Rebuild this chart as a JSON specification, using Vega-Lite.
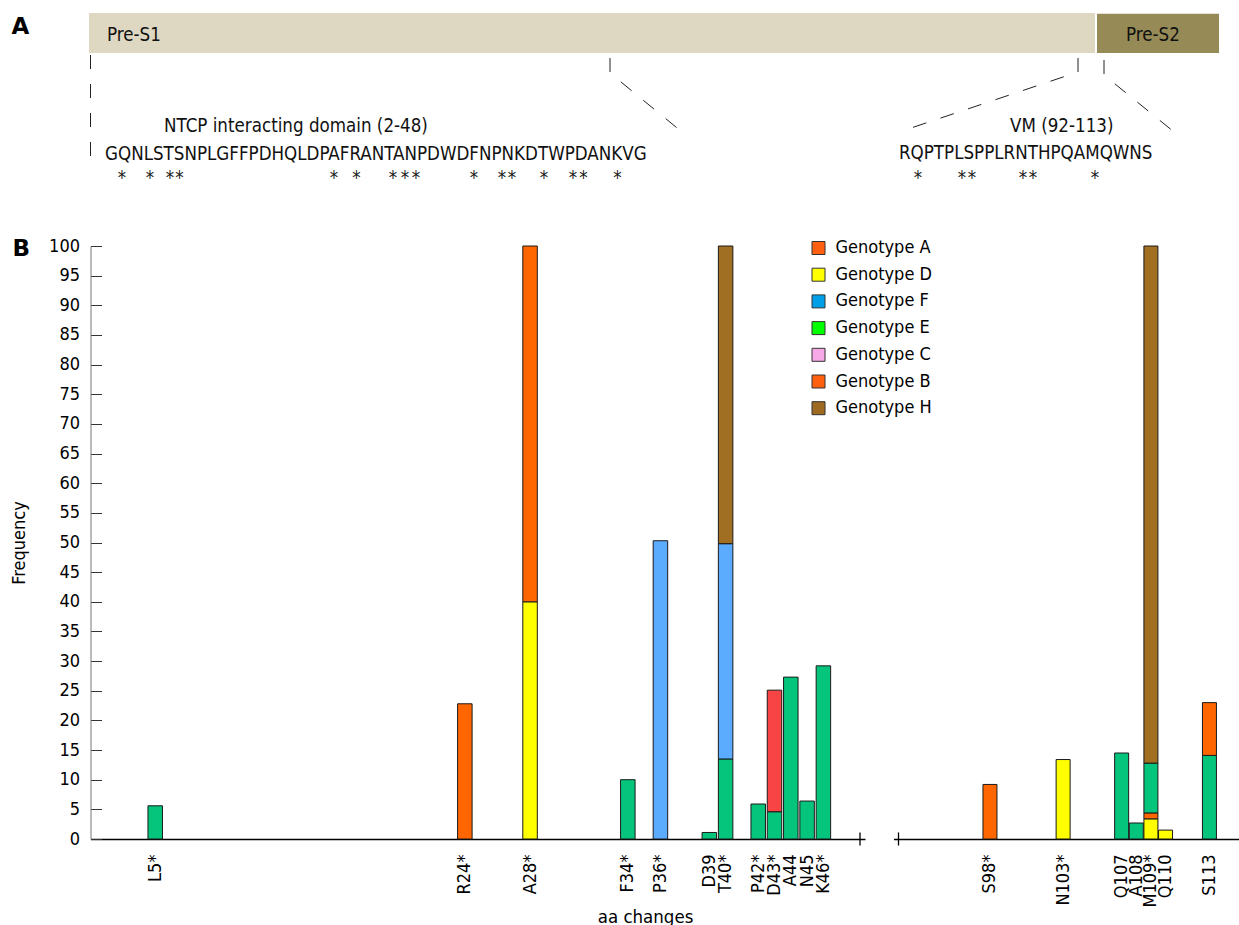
{
  "$schema": "https://vega.github.io/schema/vega-lite/v6.json",
  "background": "white",
  "padding": {"left": 10.5, "top": 13, "right": 0, "bottom": 0},
  "config": {
    "font": "DejaVu Sans Condensed, DejaVu Sans",
    "view": {"stroke": null},
    "axis": {"grid": false, "labelColor": "#000", "titleColor": "#000", "labelFontSize": 18, "titleFontSize": 18, "titleFontWeight": "normal"},
    "legend": {"labelColor": "#000"}
  },
  "datasets": {
    "blocks": [
      {"block": "Pre-S1", "x0": -1.5, "x1": 1004.5, "y0": 0, "y1": 40},
      {"block": "Pre-S2", "x0": 1006.5, "x1": 1128.5, "y0": 0.7, "y1": 40}
    ],
    "panelLabels": [
      {"text": "A", "x": -79, "y": 21},
      {"text": "B", "x": -78, "y": 243}
    ],
    "labelsA": [
      {"text": "Pre-S1", "x": 16.5, "y": 27.5},
      {"text": "Pre-S2", "x": 1035.5, "y": 27.5},
      {"text": "NTCP interacting domain (2-48)", "x": 73.5, "y": 118.7},
      {"text": "GQNLSTSNPLGFFPDHQLDPAFRANTANPDWDFNPNKDTWPDANKVG", "x": 14.5, "y": 146.5},
      {"text": "VM (92-113)", "x": 919.5, "y": 119.3},
      {"text": "RQPTPLSPPLRNTHPQAMQWNS", "x": 808.5, "y": 146}
    ],
    "stars": [
      {"x": 31.5}, {"x": 59.5}, {"x": 79.5}, {"x": 89}, {"x": 243.5}, {"x": 266},
      {"x": 302.5}, {"x": 314.5}, {"x": 325.5}, {"x": 383.5}, {"x": 411.5}, {"x": 421.5},
      {"x": 453.5}, {"x": 482.5}, {"x": 493}, {"x": 527},
      {"x": 827.5}, {"x": 871.5}, {"x": 881.5}, {"x": 932.5}, {"x": 942.5}, {"x": 1004.5}
    ],
    "dashes": [
      {"line": 1, "ord": 1, "x": 0, "y": 42}, {"line": 1, "ord": 2, "x": 0, "y": 147},
      {"line": 2, "ord": 1, "x": 519.5, "y": 45}, {"line": 2, "ord": 2, "x": 519.5, "y": 60}, {"line": 2, "ord": 3, "x": 591.5, "y": 119},
      {"line": 3, "ord": 1, "x": 987.5, "y": 45}, {"line": 3, "ord": 2, "x": 987.5, "y": 59}, {"line": 3, "ord": 3, "x": 820.5, "y": 115},
      {"line": 4, "ord": 1, "x": 1013.5, "y": 47}, {"line": 4, "ord": 2, "x": 1013.5, "y": 62}, {"line": 4, "ord": 3, "x": 1088.5, "y": 123}
    ],
    "bars": [
      {"aa": 5, "mutation": "L5*", "genotype": "Genotype E", "freq": 5.6, "seg": 1},
      {"aa": 24, "mutation": "R24*", "genotype": "Genotype A", "freq": 22.8, "seg": 1},
      {"aa": 28, "mutation": "A28*", "genotype": "Genotype D", "freq": 40.0, "seg": 1},
      {"aa": 28, "mutation": "A28*", "genotype": "Genotype A", "freq": 60.0, "seg": 2},
      {"aa": 34, "mutation": "F34*", "genotype": "Genotype E", "freq": 10.0, "seg": 1},
      {"aa": 36, "mutation": "P36*", "genotype": "Genotype F", "freq": 50.3, "seg": 1},
      {"aa": 39, "mutation": "D39", "genotype": "Genotype E", "freq": 1.1, "seg": 1},
      {"aa": 40, "mutation": "T40*", "genotype": "Genotype E", "freq": 13.5, "seg": 1},
      {"aa": 40, "mutation": "T40*", "genotype": "Genotype F", "freq": 36.3, "seg": 2},
      {"aa": 40, "mutation": "T40*", "genotype": "Genotype H", "freq": 50.2, "seg": 3},
      {"aa": 42, "mutation": "P42*", "genotype": "Genotype E", "freq": 5.9, "seg": 1},
      {"aa": 43, "mutation": "D43*", "genotype": "Genotype E", "freq": 4.6, "seg": 1},
      {"aa": 43, "mutation": "D43*", "genotype": "Genotype B", "freq": 20.5, "seg": 2},
      {"aa": 44, "mutation": "A44", "genotype": "Genotype E", "freq": 27.3, "seg": 1},
      {"aa": 45, "mutation": "N45", "genotype": "Genotype E", "freq": 6.4, "seg": 1},
      {"aa": 46, "mutation": "K46*", "genotype": "Genotype E", "freq": 29.2, "seg": 1},
      {"aa": 98, "mutation": "S98*", "genotype": "Genotype A", "freq": 9.2, "seg": 1},
      {"aa": 103, "mutation": "N103*", "genotype": "Genotype D", "freq": 13.4, "seg": 1},
      {"aa": 107, "mutation": "Q107", "genotype": "Genotype E", "freq": 14.5, "seg": 1},
      {"aa": 108, "mutation": "A108", "genotype": "Genotype E", "freq": 2.7, "seg": 1},
      {"aa": 109, "mutation": "M109*", "genotype": "Genotype D", "freq": 3.4, "seg": 1},
      {"aa": 109, "mutation": "M109*", "genotype": "Genotype A", "freq": 1.0, "seg": 2},
      {"aa": 109, "mutation": "M109*", "genotype": "Genotype E", "freq": 8.4, "seg": 3},
      {"aa": 109, "mutation": "M109*", "genotype": "Genotype H", "freq": 87.2, "seg": 4},
      {"aa": 110, "mutation": "Q110", "genotype": "Genotype D", "freq": 1.5, "seg": 1},
      {"aa": 113, "mutation": "S113", "genotype": "Genotype E", "freq": 14.1, "seg": 1},
      {"aa": 113, "mutation": "S113", "genotype": "Genotype A", "freq": 8.9, "seg": 2}
    ],
    "breaks": [
      {"panel": "left", "aa": 48.246},
      {"panel": "right", "aa": 91.75}
    ]
  },
  "bounds": "flush",
  "spacing": 43,
  "resolve": {"scale": {"color": "independent"}},
  "vconcat": [
    {
      "width": 1149,
      "height": 190,
      "layer": [
        {
          "data": {"name": "blocks"},
          "transform": [{"filter": "datum.block === 'Pre-S1'"}],
          "mark": {"type": "rect", "color": "#DED8C2"},
          "encoding": {
            "x": {"field": "x0", "type": "quantitative", "scale": {"domain": [0, 1149], "nice": false, "zero": false}, "axis": null},
            "x2": {"field": "x1"},
            "y": {"field": "y0", "type": "quantitative", "scale": {"domain": [0, 190], "nice": false, "zero": false, "reverse": true}, "axis": null},
            "y2": {"field": "y1"}
          }
        },
        {
          "data": {"name": "blocks"},
          "transform": [{"filter": "datum.block === 'Pre-S2'"}],
          "mark": {"type": "rect", "color": "#968B56"},
          "encoding": {
            "x": {"field": "x0", "type": "quantitative", "scale": {"domain": [0, 1149], "nice": false, "zero": false}, "axis": null},
            "x2": {"field": "x1"},
            "y": {"field": "y0", "type": "quantitative", "scale": {"domain": [0, 190], "nice": false, "zero": false, "reverse": true}, "axis": null},
            "y2": {"field": "y1"}
          }
        },
        {
          "data": {"name": "dashes"},
          "mark": {"type": "line", "strokeDash": [14, 15], "strokeWidth": 1, "color": "#222"},
          "encoding": {
            "x": {"field": "x", "type": "quantitative", "scale": {"domain": [0, 1149], "nice": false, "zero": false}, "axis": null},
            "y": {"field": "y", "type": "quantitative", "scale": {"domain": [0, 190], "nice": false, "zero": false, "reverse": true}, "axis": null},
            "detail": {"field": "line", "type": "nominal"},
            "order": {"field": "ord", "type": "quantitative"}
          }
        },
        {
          "data": {"name": "panelLabels"},
          "mark": {"type": "text", "align": "left", "baseline": "alphabetic", "fontSize": 23, "fontWeight": "bold", "font": "DejaVu Sans", "color": "#000"},
          "encoding": {
            "x": {"field": "x", "type": "quantitative", "scale": {"domain": [0, 1149], "nice": false, "zero": false}, "axis": null},
            "y": {"field": "y", "type": "quantitative", "scale": {"domain": [0, 190], "nice": false, "zero": false, "reverse": true}, "axis": null},
            "text": {"field": "text"}
          }
        },
        {
          "data": {"name": "labelsA"},
          "mark": {"type": "text", "align": "left", "baseline": "alphabetic", "fontSize": 18.6, "color": "#111"},
          "encoding": {
            "x": {"field": "x", "type": "quantitative", "scale": {"domain": [0, 1149], "nice": false, "zero": false}, "axis": null},
            "y": {"field": "y", "type": "quantitative", "scale": {"domain": [0, 190], "nice": false, "zero": false, "reverse": true}, "axis": null},
            "text": {"field": "text"}
          }
        },
        {
          "data": {"name": "stars"},
          "mark": {"type": "text", "align": "center", "baseline": "alphabetic", "fontSize": 18.6, "color": "#111", "text": "*"},
          "encoding": {
            "x": {"field": "x", "type": "quantitative", "scale": {"domain": [0, 1149], "nice": false, "zero": false}, "axis": null},
            "y": {"datum": 170.8, "type": "quantitative", "scale": {"domain": [0, 190], "nice": false, "zero": false, "reverse": true}, "axis": null}
          }
        }
      ]
    },
    {
      "bounds": "flush",
      "spacing": 28,
      "resolve": {"scale": {"color": "independent"}},
      "title": {"text": "aa changes", "orient": "bottom", "anchor": "middle", "fontSize": 18.5, "fontWeight": "normal", "color": "#000", "dx": 20, "offset": 1},
      "hconcat": [
        {
          "width": 774.5,
          "height": 593,
          "resolve": {"scale": {"color": "independent"}},
          "layer": [
            {
              "data": {"name": "bars"},
              "transform": [{"filter": "datum.aa < 60"}],
              "mark": {"type": "bar", "width": 14.5, "stroke": "#1a1a1a", "strokeWidth": 1},
              "encoding": {
                "x": {"field": "aa", "type": "quantitative", "scale": {"domain": [1.336, 48.246], "nice": false, "zero": false},
                  "axis": {"title": null, "values": [5, 24, 28, 34, 36, 39, 40, 42, 43, 44, 45, 46],
                    "labelExpr": "{'5':'L5*','24':'R24*','28':'A28*','34':'F34*','36':'P36*','39':'D39','40':'T40*','42':'P42*','43':'D43*','44':'A44','45':'N45','46':'K46*'}[datum.value]",
                    "labelAngle": -90, "labelOverlap": false, "ticks": false, "tickSize": 0, "labelPadding": 15, "labelFlush": false, "labelBound": false, "domainColor": "#000", "domainWidth": 1.3}},
                "y": {"field": "freq", "type": "quantitative", "stack": "zero", "scale": {"domain": [0, 100], "nice": false, "zero": false},
                  "axis": {"title": "Frequency", "values": [0, 5, 10, 15, 20, 25, 30, 35, 40, 45, 50, 55, 60, 65, 70, 75, 80, 85, 90, 95, 100],
                    "ticks": true, "tickWidth": 1, "tickSize": -11, "labelPadding": 22, "labelOverlap": false, "labelFlush": false, "titlePadding": 20, "domainColor": "#777", "tickColor": "#333"}},
                "color": {"field": "genotype", "type": "nominal",
                  "scale": {"domain": ["Genotype A", "Genotype D", "Genotype F", "Genotype E", "Genotype C", "Genotype B", "Genotype H"],
                    "range": ["#FF6600", "#FFFF00", "#5BABFF", "#05C47C", "#F5A6E3", "#F84444", "#A16F22"]}, "legend": null},
                "order": {"field": "seg", "type": "quantitative"}
              }
            },
            {
              "data": {"name": "bars"},
              "transform": [{"filter": "datum.freq < 0"}],
              "mark": {"type": "square", "filled": true, "stroke": "#333", "strokeWidth": 1, "opacity": 1},
              "encoding": {
                "x": {"field": "aa", "type": "quantitative", "scale": {"domain": [1.336, 48.246], "nice": false, "zero": false},
                  "axis": {"title": null, "values": [5, 24, 28, 34, 36, 39, 40, 42, 43, 44, 45, 46],
                    "labelExpr": "{'5':'L5*','24':'R24*','28':'A28*','34':'F34*','36':'P36*','39':'D39','40':'T40*','42':'P42*','43':'D43*','44':'A44','45':'N45','46':'K46*'}[datum.value]",
                    "labelAngle": -90, "labelOverlap": false, "ticks": false, "tickSize": 0, "labelPadding": 15, "labelFlush": false, "labelBound": false, "domainColor": "#000", "domainWidth": 1.3}},
                "y": {"field": "freq", "type": "quantitative", "scale": {"domain": [0, 100], "nice": false, "zero": false},
                  "axis": {"title": "Frequency", "values": [0, 5, 10, 15, 20, 25, 30, 35, 40, 45, 50, 55, 60, 65, 70, 75, 80, 85, 90, 95, 100],
                    "ticks": true, "tickWidth": 1, "tickSize": -11, "labelPadding": 22, "labelOverlap": false, "labelFlush": false, "titlePadding": 20, "domainColor": "#777", "tickColor": "#333"}},
                "color": {"field": "genotype", "type": "nominal",
                  "scale": {"domain": ["Genotype A", "Genotype D", "Genotype F", "Genotype E", "Genotype C", "Genotype B", "Genotype H"],
                    "range": ["#FF6010", "#FFFF00", "#009FE8", "#00FF00", "#F7A8E6", "#FF6010", "#9E6A22"]},
                  "legend": {"title": null, "orient": "none", "legendX": 719, "legendY": -7, "symbolType": "square", "symbolSize": 169,
                    "labelFontSize": 18, "labelColor": "#000", "labelOffset": 8, "rowPadding": 8.7, "padding": 0,
                    "symbolStrokeColor": "#333", "symbolStrokeWidth": 1, "symbolOpacity": 1}}
              }
            },
            {
              "data": {"name": "breaks"},
              "transform": [{"filter": "datum.panel === 'left'"}],
              "mark": {"type": "rule", "color": "#000", "strokeWidth": 1.3},
              "encoding": {
                "x": {"field": "aa", "type": "quantitative", "scale": {"domain": [1.336, 48.246], "nice": false, "zero": false},
                  "axis": {"title": null, "values": [5, 24, 28, 34, 36, 39, 40, 42, 43, 44, 45, 46],
                    "labelExpr": "{'5':'L5*','24':'R24*','28':'A28*','34':'F34*','36':'P36*','39':'D39','40':'T40*','42':'P42*','43':'D43*','44':'A44','45':'N45','46':'K46*'}[datum.value]",
                    "labelAngle": -90, "labelOverlap": false, "ticks": false, "tickSize": 0, "labelPadding": 15, "labelFlush": false, "labelBound": false, "domainColor": "#000", "domainWidth": 1.3}},
                "y": {"datum": -1.1, "type": "quantitative", "scale": {"domain": [0, 100], "nice": false, "zero": false},
                  "axis": {"title": "Frequency", "values": [0, 5, 10, 15, 20, 25, 30, 35, 40, 45, 50, 55, 60, 65, 70, 75, 80, 85, 90, 95, 100],
                    "ticks": true, "tickWidth": 1, "tickSize": -11, "labelPadding": 22, "labelOverlap": false, "labelFlush": false, "titlePadding": 20, "domainColor": "#777", "tickColor": "#333"}},
                "y2": {"datum": 1.1}
              }
            }
          ]
        },
        {
          "width": 347,
          "height": 593,
          "layer": [
            {
              "data": {"name": "bars"},
              "transform": [{"filter": "datum.aa > 60"}],
              "mark": {"type": "bar", "width": 14, "stroke": "#1a1a1a", "strokeWidth": 1},
              "encoding": {
                "x": {"field": "aa", "type": "quantitative", "scale": {"domain": [91.75, 114.78], "nice": false, "zero": false},
                  "axis": {"title": null, "values": [98, 103, 107, 108, 109, 110, 113],
                    "labelExpr": "{'98':'S98*','103':'N103*','107':'Q107','108':'A108','109':'M109*','110':'Q110','113':'S113'}[datum.value]",
                    "labelAngle": -90, "labelOverlap": false, "ticks": false, "tickSize": 0, "labelPadding": 15, "labelFlush": false, "labelBound": false, "domainColor": "#000", "domainWidth": 1.3}},
                "y": {"field": "freq", "type": "quantitative", "stack": "zero", "scale": {"domain": [0, 100], "nice": false, "zero": false}, "axis": null},
                "color": {"field": "genotype", "type": "nominal",
                  "scale": {"domain": ["Genotype A", "Genotype D", "Genotype F", "Genotype E", "Genotype C", "Genotype B", "Genotype H"],
                    "range": ["#FF6600", "#FFFF00", "#5BABFF", "#05C47C", "#F5A6E3", "#F84444", "#A16F22"]}, "legend": null},
                "order": {"field": "seg", "type": "quantitative"}
              }
            },
            {
              "data": {"name": "breaks"},
              "transform": [{"filter": "datum.panel === 'right'"}],
              "mark": {"type": "rule", "color": "#000", "strokeWidth": 1.3},
              "encoding": {
                "x": {"field": "aa", "type": "quantitative", "scale": {"domain": [91.75, 114.78], "nice": false, "zero": false},
                  "axis": {"title": null, "values": [98, 103, 107, 108, 109, 110, 113],
                    "labelExpr": "{'98':'S98*','103':'N103*','107':'Q107','108':'A108','109':'M109*','110':'Q110','113':'S113'}[datum.value]",
                    "labelAngle": -90, "labelOverlap": false, "ticks": false, "tickSize": 0, "labelPadding": 15, "labelFlush": false, "labelBound": false, "domainColor": "#000", "domainWidth": 1.3}},
                "y": {"datum": -1.1, "type": "quantitative", "scale": {"domain": [0, 100], "nice": false, "zero": false}, "axis": null},
                "y2": {"datum": 1.1}
              }
            }
          ]
        }
      ]
    }
  ]
}
